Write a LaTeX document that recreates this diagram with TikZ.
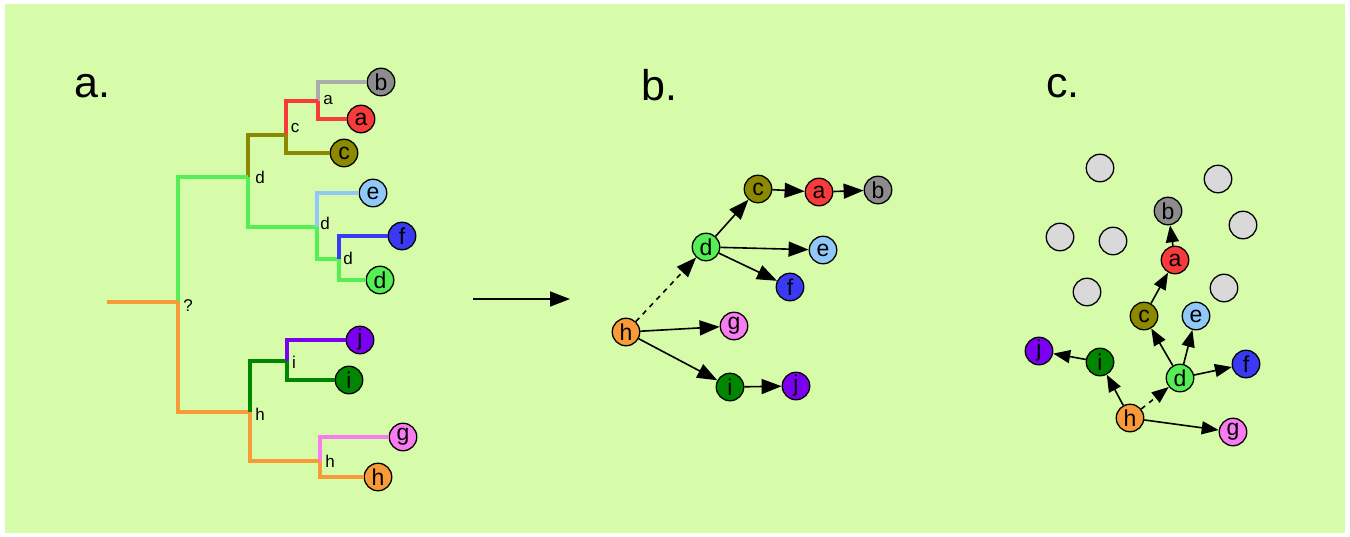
\documentclass[tikz,border=0pt]{standalone}
\usepackage{fontspec}
\setmainfont{Liberation Sans}
\usetikzlibrary{arrows.meta}

\definecolor{bg}{HTML}{D6FCAA}
\definecolor{colA}{HTML}{F73B3B}
\definecolor{colB}{HTML}{8C8C8C}
\definecolor{colBline}{HTML}{ABABAB}
\definecolor{colC}{HTML}{8C8800}
\definecolor{colD}{HTML}{55EE55}
\definecolor{colE}{HTML}{90C8F8}
\definecolor{colF}{HTML}{3A3AF5}
\definecolor{colG}{HTML}{F77CF2}
\definecolor{colH}{HTML}{F99A38}
\definecolor{colI}{HTML}{008600}
\definecolor{colJ}{HTML}{7C00F0}
\definecolor{colGrey}{HTML}{D9D9D9}

\tikzset{
  leaf/.style={circle, draw=black, line width=1.3pt, minimum size=27.5pt,
    inner sep=0pt, font=\fontsize{23}{23}\selectfont},
  branch/.style={line width=3.5pt},
  tlab/.style={font=\fontsize{17}{17}\selectfont, inner sep=0pt},
  plab/.style={font=\fontsize{43}{43}\selectfont, inner sep=0pt, anchor=base west},
  arr/.style={line width=1.6pt, -{Triangle[length=20pt,width=15pt]}},
  arrc/.style={line width=1.6pt, -{Triangle[length=17pt,width=13pt]}},
  dsh/.style={dash pattern=on 5pt off 5pt}
}

\begin{document}
\begin{tikzpicture}[x=1pt,y=-1pt]
\useasboundingbox (0,0) rectangle (1350,536);
\fill[white] (0,0) rectangle (1350,536);
\fill[bg] (5,4) rectangle (1345,533);

% panel titles
\node[plab] (ta) at (74,97) {a.};
\node[plab] (tb) at (641,100) {b.};
\node[plab] (tc) at (1046,97) {c.};

% ---------- a. cladogram ----------
\node[leaf, fill=colB] (Lb) at (381,82) {b};
\node[leaf, fill=colA] (La) at (361,119) {a};
\node[leaf, fill=colC] (Lc) at (344,153) {c};
\node[leaf, fill=colE] (Le) at (373,193) {e};
\node[leaf, fill=colF] (Lf) at (402,236) {f};
\node[leaf, fill=colD] (Ld) at (380,280) {d};
\node[leaf, fill=colJ] (Lj) at (360,340) {j};
\node[leaf, fill=colI] (Li) at (349,380) {i};
\node[leaf, fill=colG] (Lg) at (403,437) {g};
\node[leaf, fill=colH] (Lh) at (378,477) {h};

\coordinate (tA) at (318,101);
\coordinate (tC) at (286,135);
\coordinate (tD1) at (248,177);
\coordinate (tD2) at (317,227);
\coordinate (tD3) at (339,259);
\coordinate (tR) at (178,302);
\coordinate (tH) at (250,412);
\coordinate (tI) at (287,361);
\coordinate (tH2) at (320,461);
\coordinate (tS) at (107,302);

\draw[branch, colBline] (tA) |- (Lb);
\draw[branch, colA] (tA) |- (La);
\draw[branch, colA] (tC) |- (tA);
\draw[branch, colC] (tC) |- (Lc);
\draw[branch, colC] (tD1) |- (tC);
\draw[branch, colD] (tD1) |- (tD2);
\draw[branch, colE] (tD2) |- (Le);
\draw[branch, colD] (tD2) |- (tD3);
\draw[branch, colF] (tD3) |- (Lf);
\draw[branch, colD] (tD3) |- (Ld);
\draw[branch, colD] (tR) |- (tD1);
\draw[branch, colH] (tR) |- (tH);
\draw[branch, colH] (tS) -- (tR);
\draw[branch, colI] (tH) |- (tI);
\draw[branch, colH] (tH) |- (tH2);
\draw[branch, colJ] (tI) |- (Lj);
\draw[branch, colI] (tI) |- (Li);
\draw[branch, colG] (tH2) |- (Lg);
\draw[branch, colH] (tH2) |- (Lh);

\node[tlab] (kA) at (328,100) {a};
\node[tlab] (kC) at (295,128) {c};
\node[tlab] (kD1) at (260,177) {d};
\node[tlab] (kD2) at (325,223) {d};
\node[tlab] (kD3) at (348,258) {d};
\node[tlab] (kR) at (188,306) {?};
\node[tlab] (kH) at (260,414) {h};
\node[tlab] (kI) at (294,362) {i};
\node[tlab] (kH2) at (330,461) {h};

% ---------- arrow between panels ----------
\coordinate (m1) at (473,299);
\coordinate (m2) at (570,299);
\draw[arr] (m1) -- (m2);

% ---------- b. graph ----------
\node[leaf, fill=colC] (bc) at (758,189) {c};
\node[leaf, fill=colA] (ba) at (819,192) {a};
\node[leaf, fill=colB] (bb) at (878,190) {b};
\node[leaf, fill=colD] (bd) at (706,247) {d};
\node[leaf, fill=colE] (be) at (823,250) {e};
\node[leaf, fill=colF] (bf) at (790,287) {f};
\node[leaf, fill=colH] (bh) at (626,332) {h};
\node[leaf, fill=colG] (bg) at (734,326) {g};
\node[leaf, fill=colI] (bi) at (730,387) {i};
\node[leaf, fill=colJ] (bj) at (796,386) {j};

\draw[arr] (bc) -- (ba);
\draw[arr] (ba) -- (bb);
\draw[arr] (bd) -- (bc);
\draw[arr] (bd) -- (be);
\draw[arr] (bd) -- (bf);
\draw[arr] (bh) -- (bg);
\draw[arr] (bh) -- (bi);
\draw[arr] (bi) -- (bj);
\draw[arr, dsh] (bh) -- (bd);

% ---------- c. graph ----------
\foreach \p [count=\k] in {(1100,168),(1218,179),(1243,225),(1060,237),(1113,241),(1087,292),(1224,288)}
  \node[leaf, fill=colGrey] (cg\k) at \p {};

\node[leaf, fill=colB] (cb) at (1168,211) {b};
\node[leaf, fill=colA] (ca) at (1175,260) {a};
\node[leaf, fill=colC] (cc) at (1144,316) {c};
\node[leaf, fill=colE] (ce) at (1196,316) {e};
\node[leaf, fill=colJ] (cj) at (1039,351) {j};
\node[leaf, fill=colI] (ci) at (1100,362) {i};
\node[leaf, fill=colF] (cf) at (1246,364) {f};
\node[leaf, fill=colD] (cd) at (1180,378) {d};
\node[leaf, fill=colH] (ch) at (1130,418) {h};
\node[leaf, fill=colG] (cgg) at (1233,432) {g};

\draw[arrc] (ca) -- (cb);
\draw[arrc] (cc) -- (ca);
\draw[arrc] (cd) -- (cc);
\draw[arrc] (cd) -- (ce);
\draw[arrc] (cd) -- (cf);
\draw[arrc] (ch) -- (ci);
\draw[arrc] (ci) -- (cj);
\draw[arrc] (ch) -- (cgg);
\draw[arrc, dsh] (ch) -- (cd);
\end{tikzpicture}
\end{document}
